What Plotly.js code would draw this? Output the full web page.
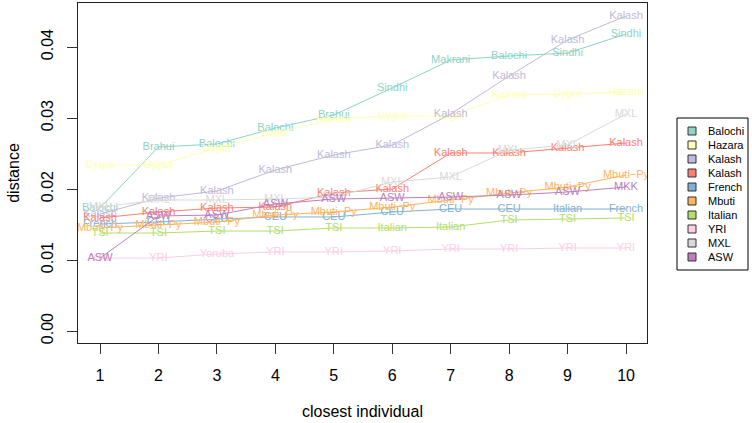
<!DOCTYPE html>
<html>
<head>
<meta charset="utf-8">
<script src="https://cdn.plot.ly/plotly-3.0.1.min.js"></script>
<style>html,body{margin:0;padding:0;background:#fff}#chart{width:752px;height:423px}</style>
</head>
<body>
<div id="chart"></div>
<script>
// ---- data ----
const ranks = [1, 2, 3, 4, 5, 6, 7, 8, 9, 10];
const seriesNames = ["Balochi", "Hazara", "Kalash", "Kalash", "French", "Mbuti", "Italian", "YRI", "MXL", "ASW"];
const seriesColors = ["#8DD3C7", "#FFFFB3", "#BEBADA", "#FB8072", "#80B1D3", "#FDB462", "#B3DE69", "#FCCDE5", "#D9D9D9", "#BC80BD"];

const balochiDist = [0.01732, 0.02592, 0.02634, 0.02859, 0.03042, 0.03423, 0.03817, 0.03873, 0.03915, 0.04183];
const balochiNear = ["Balochi", "Brahui", "Balochi", "Balochi", "Brahui", "Sindhi", "Makrani", "Balochi", "Sindhi", "Sindhi"];

const hazaraDist = [0.02338, 0.02338, 0.02577, 0.02789, 0.02986, 0.03028, 0.03028, 0.03324, 0.03338, 0.03366];
const hazaraNear = ["Uygur", "Uygur", "Uygur", "Uygur", "Hazara", "Uygur", "Uygur", "Hazara", "Uygur", "Hazara"];

const kalashADist = [0.01648, 0.01873, 0.01972, 0.02268, 0.02479, 0.0262, 0.03056, 0.03592, 0.04099, 0.04437];
const kalashANear = ["Kalash", "Kalash", "Kalash", "Kalash", "Kalash", "Kalash", "Kalash", "Kalash", "Kalash", "Kalash"];

const kalashBDist = [0.01592, 0.01676, 0.01732, 0.01746, 0.01944, 0.02, 0.02507, 0.02507, 0.02577, 0.02648];
const kalashBNear = ["Kalash", "Kalash", "Kalash", "Kalash", "Kalash", "Kalash", "Kalash", "Kalash", "Kalash", "Kalash"];

const frenchDist = [0.01507, 0.01535, 0.01577, 0.01606, 0.01606, 0.01676, 0.01718, 0.01718, 0.01718, 0.01718];
const frenchNear = ["French", "CEU", "CEU", "CEU", "CEU", "CEU", "CEU", "CEU", "Italian", "French"];

const mbutiDist = [0.01451, 0.01493, 0.01535, 0.01634, 0.01676, 0.01746, 0.01845, 0.01944, 0.02028, 0.02197];
const mbutiNear = ["Mbuti\u2212Py", "Mbuti\u2212Py", "Mbuti\u2212Py", "Mbuti\u2212Py", "Mbuti\u2212Py", "Mbuti\u2212Py", "Mbuti\u2212Py", "Mbuti\u2212Py", "Mbuti\u2212Py", "Mbuti\u2212Py"];

const italianDist = [0.0138, 0.0138, 0.01408, 0.01408, 0.01451, 0.01451, 0.01465, 0.01563, 0.01577, 0.01592];
const italianNear = ["TSI", "TSI", "TSI", "TSI", "TSI", "Italian", "Italian", "TSI", "TSI", "TSI"];

const yriDist = [0.01028, 0.01028, 0.01085, 0.01113, 0.01113, 0.01127, 0.01155, 0.01155, 0.01169, 0.01169];
const yriNear = ["YRI", "YRI", "Yoruba", "YRI", "YRI", "YRI", "YRI", "YRI", "YRI", "YRI"];

const mxlDist = [0.01746, 0.01845, 0.01845, 0.01859, 0.01887, 0.02099, 0.02169, 0.02549, 0.0262, 0.03056];
const mxlNear = ["MXL", "MXL", "MXL", "MXL", "MXL", "MXL", "MXL", "MXL", "MXL", "MXL"];

const aswDist = [0.01028, 0.0162, 0.01634, 0.01789, 0.01859, 0.01873, 0.01887, 0.01915, 0.01958, 0.02028];
const aswNear = ["ASW", "ASW", "ASW", "ASW", "ASW", "ASW", "ASW", "ASW", "ASW", "MKK"];

const yTickVals = [0, 0.01, 0.02, 0.03, 0.04];
const yTickText = ["0.00", "0.01", "0.02", "0.03", "0.04"];
const xTickVals = [1, 2, 3, 4, 5, 6, 7, 8, 9, 10];

const allDist = [balochiDist, hazaraDist, kalashADist, kalashBDist, frenchDist, mbutiDist, italianDist, yriDist, mxlDist, aswDist];
const allNear = [balochiNear, hazaraNear, kalashANear, kalashBNear, frenchNear, mbutiNear, italianNear, yriNear, mxlNear, aswNear];

// ---- traces ----
const FONT = "Liberation Sans, Arial, Helvetica, sans-serif";
const traces = allDist.map((d, i) => ({
  x: ranks, y: d, text: allNear[i], name: seriesNames[i],
  type: "scatter", mode: "lines+text", textposition: "middle center",
  line: {color: seriesColors[i], width: 1},
  textfont: {family: FONT, size: 11, color: seriesColors[i]},
  showlegend: false, hoverinfo: "skip"
}));

// ---- manual R-style legend (paper coords) ----
const L = 78, R = 647, T = 3, B = 343;
const px = v => (v - L) / (R - L);
const py = v => (B - v) / (B - T);
const shapes = [{type: "rect", xref: "paper", yref: "paper",
  x0: px(677), x1: px(748), y0: py(118), y1: py(270),
  line: {color: "#000", width: 1}, fillcolor: "rgba(0,0,0,0)"}];
const annotations = [];
seriesNames.forEach((n, i) => {
  const cy = 131 + 14 * i;
  shapes.push({type: "rect", xref: "paper", yref: "paper",
    x0: px(688), x1: px(696), y0: py(cy + 4), y1: py(cy - 4),
    line: {color: "#333", width: 1}, fillcolor: seriesColors[i]});
  annotations.push({xref: "paper", yref: "paper", x: px(706), y: py(cy),
    xanchor: "left", yanchor: "middle", text: n, showarrow: false,
    font: {family: FONT, size: 11, color: "#000"}});
});

const layout = {
  width: 752, height: 423,
  margin: {l: 78, r: 105, t: 3, b: 80, pad: 0},
  paper_bgcolor: "#fff", plot_bgcolor: "#fff",
  font: {family: FONT, color: "#000"},
  showlegend: false,
  xaxis: {
    range: [0.6235, 10.359], tickvals: xTickVals, ticks: "outside", ticklen: 10,
    tickcolor: "#333", showgrid: false, zeroline: false, showline: true, mirror: true,
    linecolor: "#222", linewidth: 1, tickfont: {size: 16, family: FONT},
    ticklabelstandoff: 8,
    title: {text: "closest individual", font: {size: 16, family: FONT}, standoff: 22}
  },
  yaxis: {
    range: [-0.00169, 0.0462], tickvals: yTickVals, ticktext: yTickText, ticks: "outside",
    ticklen: 10, tickcolor: "#333", tickangle: -90, showgrid: false, zeroline: false,
    showline: true, mirror: true, linecolor: "#222", linewidth: 1,
    tickfont: {size: 16, family: FONT}, ticklabelstandoff: 8,
    title: {text: "distance", font: {size: 16, family: FONT}, standoff: 14}
  },
  shapes: shapes, annotations: annotations
};

Plotly.newPlot("chart", traces, layout, {displayModeBar: false, staticPlot: true});
</script>
</body>
</html>
